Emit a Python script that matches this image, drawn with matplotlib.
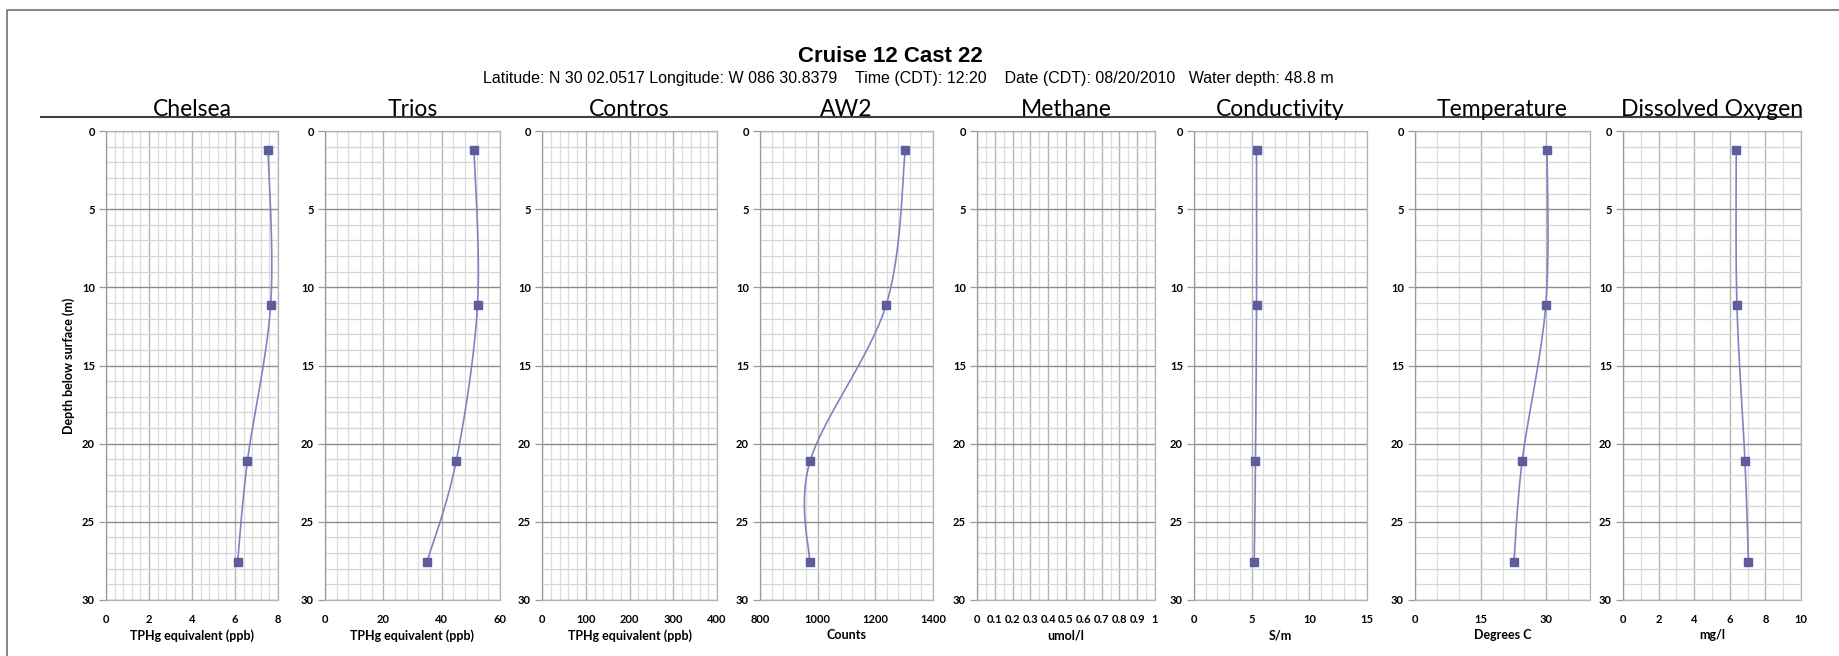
import numpy as np
import matplotlib.pyplot as plt
from matplotlib.lines import Line2D
from matplotlib.ticker import MultipleLocator, FuncFormatter

# depth of each sample (m)
depth = [1.2, 11.1, 21.1, 27.6]

names = ['Chelsea', 'Trios', 'Contros', 'AW2', 'Methane',
         'Conductivity', 'Temperature', 'Dissolved Oxygen']
units = ['TPHg equivalent (ppb)', 'TPHg equivalent (ppb)', 'TPHg equivalent (ppb)',
         'Counts', 'umol/l', 'S/m', 'Degrees C', 'mg/l']

chelsea = [7.54, 7.66, 6.58, 6.12]
trios = [51.1, 52.3, 45.0, 34.9]
contros = []
aw2 = [1304, 1238, 974, 972]
methane = []
conductivity = [5.42, 5.42, 5.33, 5.22]
temperature = [30.2, 29.9, 24.5, 22.6]
oxygen = [6.36, 6.40, 6.85, 7.05]
series = [chelsea, trios, contros, aw2, methane, conductivity, temperature, oxygen]

x_min = [0, 0, 0, 800, 0, 0, 0, 0]
x_max = [8, 60, 400, 1400, 1, 15, 40, 10]
x_major = [2, 20, 100, 200, 0.1, 5, 15, 2]
x_minor = [0.4, 4, 20, 40, 0.05, 1, 5, 1]

# panel left/right edges in pixels of the 1840x656 figure
W, H = 1840, 656
edges = [(106, 278), (325, 500), (542, 717), (760, 933),
         (977, 1155), (1194, 1367), (1415, 1590), (1623, 1801)]
top_px, bot_px = 131, 600

line_col = '#8282c2'
mark_col = '#5d5d9d'
tick_font = ['Liberation Sans Narrow', 'Lato']


def smooth(xs, ys, n=40):
    # excel style smoothed line (bezier through the points)
    px = np.asarray(xs, float)
    py = np.asarray(ys, float)
    t = np.linspace(0, 1, n)
    ox, oy = [], []
    for i in range(len(px) - 1):
        a, b = max(i - 1, 0), min(i + 2, len(px) - 1)
        c1x = px[i] + (px[i + 1] - px[a]) / 6
        c1y = py[i] + (py[i + 1] - py[a]) / 6
        c2x = px[i + 1] - (px[b] - px[i]) / 6
        c2y = py[i + 1] - (py[b] - py[i]) / 6
        bx = (1-t)**3*px[i] + 3*(1-t)**2*t*c1x + 3*(1-t)*t**2*c2x + t**3*px[i+1]
        by = (1-t)**3*py[i] + 3*(1-t)**2*t*c1y + 3*(1-t)*t**2*c2y + t**3*py[i+1]
        ox.extend(bx)
        oy.extend(by)
    return ox, oy


fig = plt.figure(figsize=(W / 100, H / 100), dpi=100)

for k in range(8):
    l, r = edges[k]
    ax = fig.add_axes([l / W, 1 - bot_px / H, (r - l) / W, (bot_px - top_px) / H])
    ax.set_xlim(x_min[k], x_max[k])
    ax.set_ylim(30, 0)
    ax.xaxis.set_major_locator(MultipleLocator(x_major[k]))
    ax.xaxis.set_minor_locator(MultipleLocator(x_minor[k]))
    ax.yaxis.set_major_locator(MultipleLocator(5))
    ax.yaxis.set_minor_locator(MultipleLocator(1))
    ax.xaxis.set_major_formatter(FuncFormatter(lambda v, p: '%g' % round(v, 3)))
    ax.grid(which='minor', axis='x', color='#dcdcdc', lw=0.9)
    ax.grid(which='major', axis='x', color='#b4b4b4', lw=1.0)
    ax.grid(which='minor', axis='y', color='#d6d6d6', lw=0.9)
    ax.grid(which='major', axis='y', color='#8c8c8c', lw=1.0)
    ax.set_axisbelow(True)
    for s in ax.spines.values():
        s.set_color('#b4b4b4')
        s.set_linewidth(0.9)
    ax.spines['left'].set_color('#9a9a9a')
    ax.tick_params(axis='x', which='both', length=0, pad=10, labelsize=8)
    ax.tick_params(axis='y', which='major', length=5, width=0.9, color='#9a9a9a',
                   pad=3, labelsize=8)
    ax.tick_params(axis='y', which='minor', length=0)
    for lab in ax.get_xticklabels() + ax.get_yticklabels():
        lab.set_family(tick_font)
        lab.set_fontweight('bold')

    vals = series[k]
    if len(vals):
        sx, sy = smooth(vals, depth)
        ax.plot(sx, sy, color=line_col, lw=1.2, zorder=3)
        ax.plot(vals, depth, 's', color=mark_col, ms=6, mec=mark_col, zorder=4)

    ax.set_xlabel(units[k], family='Lato', fontweight='bold', fontsize=9, labelpad=3)
    if k == 0:
        ax.set_ylabel('Depth below surface (m)', family='Lato', fontweight='bold',
                      fontsize=9, labelpad=5)
    fig.text((l + r) / 2 / W, 1 - 115.5 / H, names[k], family='Lato', fontsize=16.5,
             ha='center', va='baseline')

fig.text(890 / W, 1 - 56 / H, 'Cruise 12 Cast 22', family='Liberation Sans',
         fontweight='bold', fontsize=16, ha='center', va='center')
fig.text(908 / W, 1 - 79 / H,
         'Latitude: N 30 02.0517 Longitude: W 086 30.8379    Time (CDT): 12:20    '
         'Date (CDT): 08/20/2010   Water depth: 48.8 m',
         family='Liberation Sans', fontsize=11.5, ha='center', va='center')

# rule under the panel titles and the outer frame
fig.add_artist(Line2D([41 / W, 1801 / W], [1 - 117 / H, 1 - 117 / H],
                      color='#404040', lw=1.5))
fig.add_artist(Line2D([7 / W, 7 / W, 1], [0, 1 - 10 / H, 1 - 10 / H],
                      color='#707070', lw=1.2))

fig.savefig('out.png', dpi=100)
